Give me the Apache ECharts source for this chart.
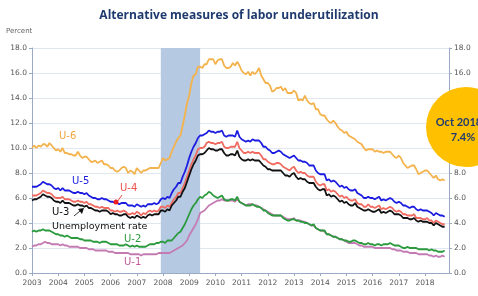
<!DOCTYPE html>
<html>
<head>
<meta charset="utf-8">
<script src="https://cdn.jsdelivr.net/npm/echarts@6/dist/echarts.min.js"></script>
<style>
  html, body { margin: 0; padding: 0; background: #fff; }
  #chart { width: 478px; height: 296px; }
</style>
</head>
<body>
<div id="chart"></div>
<script>
// 年份 / 刻度
var years = ['2003','2004','2005','2006','2007','2008','2009','2010','2011','2012','2013','2014','2015','2016','2017','2018'];
var yTicks = [0, 2, 4, 6, 8, 10, 12, 14, 16, 18];

// 月度数据 2003-01 ~ 2018-10
var u6 = [
  10.0,10.2,10.0,10.2,10.1,10.3,10.3,10.1,10.4,10.2,10.0,9.8,
  9.9,9.7,10.0,9.6,9.6,9.5,9.5,9.4,9.4,9.7,9.4,9.2,
  9.3,9.3,9.1,8.9,8.9,9.0,8.8,8.9,9.0,8.7,8.7,8.6,
  8.4,8.4,8.2,8.1,8.2,8.4,8.5,8.4,8.0,8.2,8.1,7.9,
  8.4,8.2,8.0,8.2,8.2,8.3,8.4,8.4,8.4,8.4,8.4,8.8,
  9.2,9.0,9.1,9.2,9.7,10.1,10.5,10.8,11.0,11.8,12.6,13.6,
  14.2,15.2,15.8,15.9,16.5,16.5,16.4,16.7,16.7,17.1,17.1,17.1,
  16.7,17.0,17.1,17.1,16.6,16.4,16.4,16.5,16.8,16.6,16.9,16.6,
  16.2,16.0,15.9,16.1,15.8,16.1,15.9,16.1,16.4,15.8,15.5,15.2,
  15.2,15.0,14.5,14.6,14.8,14.8,14.9,14.6,14.8,14.4,14.4,14.4,
  14.6,14.4,13.8,13.9,13.8,14.2,13.8,13.6,13.5,13.6,13.1,13.1,
  12.7,12.6,12.6,12.3,12.1,12.0,12.2,12.0,11.7,11.5,11.4,11.2,
  11.3,11.0,10.9,10.8,10.7,10.5,10.4,10.3,10.0,9.8,9.9,9.9,
  9.9,9.7,9.8,9.7,9.7,9.6,9.7,9.7,9.7,9.5,9.3,9.2,
  9.4,9.2,8.8,8.6,8.4,8.5,8.6,8.6,8.3,7.9,8.0,8.1,
  8.2,8.2,8.0,7.8,7.6,7.8,7.5,7.4,7.5,7.4
];
var u5 = [
  6.9,6.9,6.9,7.0,7.1,7.3,7.2,7.1,7.1,7.0,6.8,6.7,
  6.8,6.6,6.8,6.6,6.6,6.6,6.5,6.4,6.4,6.5,6.4,6.4,
  6.3,6.4,6.2,6.1,6.0,6.0,5.9,5.9,6.0,5.9,5.9,5.8,
  5.7,5.7,5.6,5.6,5.5,5.6,5.6,5.6,5.4,5.4,5.4,5.3,
  5.5,5.4,5.3,5.4,5.3,5.5,5.5,5.5,5.6,5.5,5.6,5.9,
  6.0,5.9,6.1,6.0,6.4,6.7,6.9,7.2,7.2,7.7,8.1,8.6,
  9.2,9.7,10.1,10.4,10.8,11.0,11.0,11.1,11.2,11.4,11.3,11.3,
  11.2,11.3,11.3,11.4,11.0,10.9,11.0,11.0,11.0,10.9,11.4,10.9,
  10.7,10.6,10.5,10.6,10.5,10.7,10.6,10.6,10.6,10.4,10.1,10.1,
  9.9,9.8,9.6,9.6,9.7,9.8,9.7,9.5,9.4,9.3,9.2,9.3,
  9.4,9.2,9.0,9.0,8.9,8.9,8.8,8.6,8.6,8.6,8.2,8.0,
  7.9,7.9,7.9,7.4,7.5,7.3,7.4,7.3,7.1,6.9,7.0,6.8,
  6.9,6.7,6.6,6.6,6.7,6.4,6.3,6.2,6.0,6.0,6.1,6.0,
  6.0,5.9,6.0,6.1,5.8,5.9,5.8,5.9,6.0,5.9,5.7,5.6,
  5.7,5.6,5.4,5.4,5.3,5.2,5.3,5.3,5.1,5.0,5.1,5.0,
  5.0,5.0,4.9,4.8,4.6,4.8,4.7,4.6,4.6,4.5
];
var u4 = [
  6.2,6.2,6.2,6.3,6.4,6.6,6.5,6.4,6.4,6.3,6.1,6.0,
  6.0,6.0,6.1,5.9,5.9,5.9,5.8,5.7,5.7,5.8,5.7,5.7,
  5.6,5.7,5.5,5.5,5.4,5.3,5.3,5.2,5.3,5.2,5.2,5.2,
  5.0,5.0,4.9,5.0,4.9,4.9,5.0,4.9,4.7,4.7,4.8,4.7,
  4.9,4.8,4.6,4.8,4.7,4.9,5.0,4.9,5.0,4.9,5.0,5.3,
  5.3,5.2,5.4,5.3,5.6,5.9,6.1,6.4,6.4,6.8,7.2,7.7,
  8.2,8.7,9.1,9.4,9.9,10.0,10.0,10.1,10.4,10.5,10.4,10.4,
  10.3,10.4,10.4,10.5,10.1,10.0,10.0,10.1,10.1,10.1,10.5,10.0,
  9.8,9.6,9.6,9.7,9.6,9.7,9.6,9.6,9.6,9.4,9.1,9.1,
  8.9,8.8,8.7,8.7,8.8,8.8,8.7,8.5,8.4,8.3,8.2,8.4,
  8.5,8.2,8.0,8.1,8.0,8.0,7.8,7.7,7.7,7.7,7.3,7.1,
  7.0,7.1,7.1,6.6,6.7,6.5,6.6,6.5,6.3,6.1,6.2,6.0,
  6.1,5.9,5.8,5.8,5.9,5.6,5.5,5.5,5.3,5.3,5.5,5.3,
  5.3,5.2,5.3,5.4,5.1,5.2,5.1,5.2,5.3,5.2,5.0,4.9,
  5.0,4.9,4.7,4.7,4.6,4.6,4.6,4.7,4.4,4.4,4.4,4.3,
  4.3,4.4,4.2,4.2,4.0,4.2,4.1,4.0,3.9,3.9
];
var u3 = [
  5.8,5.9,5.9,6.0,6.1,6.3,6.2,6.1,6.1,6.0,5.8,5.7,
  5.7,5.6,5.8,5.6,5.6,5.6,5.5,5.4,5.4,5.5,5.4,5.4,
  5.3,5.4,5.2,5.2,5.1,5.0,5.0,4.9,5.0,5.0,5.0,4.9,
  4.7,4.8,4.7,4.7,4.6,4.6,4.7,4.7,4.5,4.4,4.5,4.4,
  4.6,4.5,4.4,4.5,4.4,4.6,4.7,4.6,4.7,4.7,4.7,5.0,
  5.0,4.9,5.1,5.0,5.4,5.6,5.8,6.1,6.1,6.5,6.8,7.3,
  7.8,8.3,8.7,9.0,9.4,9.5,9.5,9.6,9.8,10.0,9.9,9.9,
  9.8,9.8,9.9,9.9,9.6,9.4,9.4,9.5,9.5,9.4,9.8,9.3,
  9.1,9.0,9.0,9.1,9.0,9.1,9.0,9.0,9.0,8.8,8.6,8.5,
  8.3,8.3,8.2,8.2,8.2,8.2,8.2,8.0,7.8,7.8,7.7,7.9,
  8.0,7.7,7.5,7.6,7.5,7.5,7.3,7.2,7.2,7.2,6.9,6.7,
  6.6,6.7,6.7,6.2,6.3,6.1,6.2,6.1,5.9,5.7,5.8,5.6,
  5.7,5.5,5.4,5.4,5.6,5.3,5.2,5.1,5.0,5.0,5.1,5.0,
  4.9,4.9,5.0,5.1,4.8,4.9,4.8,4.9,5.0,4.9,4.7,4.7,
  4.7,4.6,4.4,4.4,4.4,4.3,4.3,4.4,4.2,4.1,4.2,4.1,
  4.1,4.1,4.0,4.0,3.8,4.0,3.9,3.8,3.7,3.7
];
var u2 = [
  3.3,3.4,3.3,3.4,3.4,3.5,3.4,3.4,3.4,3.3,3.2,3.1,
  3.1,3.0,3.0,2.9,3.0,2.9,2.8,2.8,2.8,2.8,2.7,2.7,
  2.6,2.6,2.6,2.6,2.5,2.5,2.5,2.4,2.5,2.5,2.5,2.4,
  2.3,2.3,2.3,2.3,2.2,2.2,2.2,2.3,2.2,2.1,2.2,2.1,
  2.2,2.1,2.1,2.1,2.1,2.2,2.3,2.3,2.3,2.4,2.4,2.5,
  2.5,2.4,2.6,2.6,2.6,2.8,3.0,3.2,3.3,3.6,3.9,4.3,
  4.7,5.1,5.4,5.6,5.9,6.1,6.0,6.2,6.3,6.5,6.4,6.2,
  6.1,6.0,6.1,6.2,5.9,5.8,5.8,5.9,5.9,5.8,6.1,5.7,
  5.6,5.5,5.4,5.4,5.4,5.5,5.4,5.3,5.3,5.2,5.0,5.0,
  4.8,4.7,4.6,4.6,4.6,4.6,4.6,4.4,4.3,4.2,4.2,4.3,
  4.3,4.2,4.2,4.1,4.1,4.0,4.0,3.9,3.8,3.9,3.6,3.5,
  3.4,3.4,3.4,3.1,3.1,3.0,2.9,2.9,2.8,2.7,2.7,2.6,
  2.6,2.5,2.5,2.6,2.6,2.5,2.4,2.4,2.3,2.3,2.4,2.3,
  2.3,2.2,2.3,2.3,2.2,2.3,2.3,2.3,2.4,2.3,2.2,2.2,
  2.2,2.1,2.0,2.0,2.1,2.0,2.0,2.0,2.0,1.9,1.9,1.9,
  1.9,1.9,1.8,1.9,1.8,1.8,1.7,1.7,1.7,1.8
];
var u1 = [
  2.1,2.2,2.2,2.3,2.3,2.4,2.5,2.4,2.4,2.3,2.3,2.3,
  2.3,2.2,2.3,2.2,2.2,2.1,2.1,2.1,2.1,2.1,2.0,2.0,
  2.0,2.0,1.9,1.9,1.9,1.8,1.8,1.8,1.8,1.8,1.8,1.7,
  1.7,1.7,1.6,1.6,1.6,1.6,1.6,1.6,1.6,1.5,1.5,1.5,
  1.5,1.5,1.4,1.5,1.5,1.5,1.5,1.5,1.5,1.5,1.6,1.6,
  1.6,1.6,1.6,1.6,1.7,1.8,1.9,2.0,2.1,2.2,2.4,2.6,
  3.0,3.3,3.6,3.9,4.3,4.8,4.9,5.0,5.2,5.4,5.5,5.6,
  5.7,5.8,5.8,5.9,5.8,5.8,5.8,5.8,5.8,5.7,5.9,5.7,
  5.6,5.5,5.4,5.5,5.5,5.5,5.4,5.4,5.3,5.2,5.1,5.0,
  4.9,4.8,4.7,4.6,4.6,4.6,4.6,4.5,4.4,4.3,4.3,4.3,
  4.4,4.2,4.2,4.2,4.1,4.1,4.0,3.9,3.8,3.8,3.6,3.5,
  3.4,3.4,3.3,3.1,3.1,3.0,2.9,2.9,2.8,2.7,2.7,2.6,
  2.5,2.4,2.4,2.4,2.4,2.3,2.2,2.2,2.1,2.1,2.1,2.1,
  2.1,2.0,2.0,2.0,2.0,2.0,2.0,2.0,2.0,1.9,1.9,1.8,
  1.8,1.8,1.7,1.7,1.7,1.6,1.6,1.6,1.6,1.5,1.5,1.5,
  1.5,1.5,1.4,1.4,1.3,1.4,1.3,1.3,1.4,1.3
];
var recession = ['2007-12', '2009-06']; // 衰退期阴影

// 月份类目
var months = [];
years.forEach(function (y) {
  for (var m = 1; m <= 12; m++) months.push(y + '-' + (m < 10 ? '0' + m : m));
});

var chart = echarts.init(document.getElementById('chart'));

var lbl = { fontFamily: 'DejaVu Sans', fontSize: 7.5, color: '#555' };
var axisLineStyle = { color: '#9aaac4', width: 1 };

function yAxis(pos) {
  return {
    type: 'value', position: pos, min: 0, max: 18, interval: 2,
    axisLine: { show: true, lineStyle: axisLineStyle },
    axisTick: { show: true, length: 3, lineStyle: axisLineStyle },
    splitLine: { show: pos === 'left', lineStyle: { color: '#e1e7f0', width: 1 } },
    axisLabel: Object.assign({ formatter: function (v) { return v.toFixed(1); }, margin: 5 }, lbl)
  };
}

function line(name, data, color, z) {
  return {
    name: name, type: 'line', data: data, symbol: 'none', z: z,
    lineStyle: { color: color, width: 1.8 }, animation: false
  };
}

var series = [
  line('U-6', u6, '#f3b24b', 3),
  line('U-5', u5, '#1c1ce0', 4),
  line('U-4', u4, '#f06a60', 5),
  line('U-3', u3, '#111111', 6),
  line('U-2', u2, '#2a9a3c', 4),
  line('U-1', u1, '#c47bb3', 3)
];
series[0].markArea = {
  silent: true,
  itemStyle: { color: '#b6c9e2' },
  data: [[{ xAxis: recession[0] }, { xAxis: recession[1] }]]
};

function txt(x, y, s, color, size) {
  return { type: 'text', left: x, top: y, z: 20,
    style: { text: s, fill: color, font: (size || 10) + 'px "DejaVu Sans"', textVerticalAlign: 'middle' } };
}

chart.setOption({
  animation: false,
  title: {
    text: 'Alternative measures of labor underutilization',
    left: 'center', top: 5,
    textStyle: { fontFamily: 'Open Sans', fontWeight: 'bold', fontSize: 12, color: '#1f3a6e' }
  },
  grid: { left: 32, right: 29, top: 48, bottom: 23 },
  xAxis: {
    type: 'category', data: months, boundaryGap: false,
    axisLine: { lineStyle: axisLineStyle },
    axisTick: { length: 3, interval: function (i) { return i % 12 === 0; }, lineStyle: axisLineStyle },
    axisLabel: Object.assign({ interval: function (i) { return i % 12 === 0; },
      formatter: function (v) { return v.slice(0, 4); }, margin: 6 }, lbl)
  },
  yAxis: [yAxis('left'), yAxis('right')],
  series: series,
  graphic: [
    { type: 'text', left: 6, top: 28, style: { text: 'Percent', fill: '#666', font: '7px "DejaVu Sans"' } },
    txt(59, 131, 'U-6', '#f0a43c'),
    txt(72, 176, 'U-5', '#1c1ce0'),
    txt(120, 183, 'U-4', '#f0504a'),
    { type: 'line', z: 20, shape: { x1: 122, y1: 195, x2: 117, y2: 202 }, style: { stroke: '#f0504a', lineWidth: 1 } },
    { type: 'circle', z: 20, shape: { cx: 116, cy: 202, r: 2.5 }, style: { fill: '#ee2020' } },
    txt(52, 207, 'U-3', '#111'),
    { type: 'line', z: 20, shape: { x1: 74, y1: 216, x2: 80, y2: 211 }, style: { stroke: '#333', lineWidth: 1 } },
    { type: 'polygon', z: 20, shape: { points: [[84, 208], [78, 209], [82, 214]] }, style: { fill: '#111' } },
    txt(52, 222, 'Unemployment rate', '#111', 9.5),
    txt(124, 234, 'U-2', '#2a9a3c'),
    txt(124, 257, 'U-1', '#c05a9a'),
    { type: 'circle', z: 30, shape: { cx: 466, cy: 127, r: 40 }, style: { fill: '#ffc000' } },
    { type: 'text', z: 31, x: 459, y: 122, style: { text: 'Oct 2018', fill: '#1f3a6e',
      font: 'bold 11px Lato', textAlign: 'center', textVerticalAlign: 'middle' } },
    { type: 'text', z: 31, x: 463, y: 137, style: { text: '7.4%', fill: '#1f3a6e',
      font: 'bold 11px Lato', textAlign: 'center', textVerticalAlign: 'middle' } }
  ]
});
</script>
</body>
</html>
